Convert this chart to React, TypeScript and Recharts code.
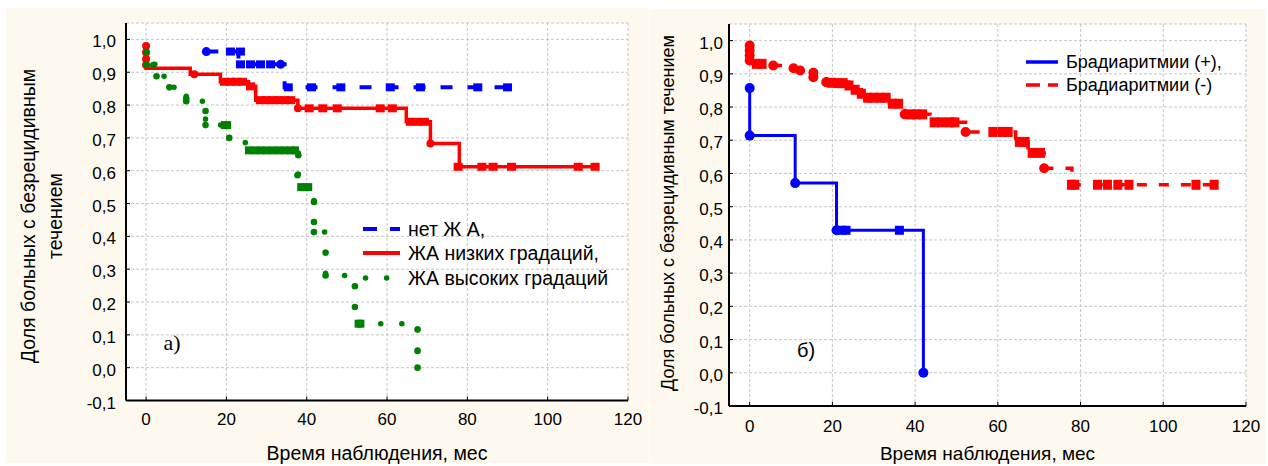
import React from "react";
import {
  ComposedChart,
  Line,
  Scatter,
  XAxis,
  YAxis,
  CartesianGrid,
  Legend,
  Label,
} from "recharts";

type Pt = { t: number; s: number };

const FONT = "'Liberation Sans', Arial, sans-serif";
const CREAM = "#fdf9ee";
const GRID = "#c6c6c6";
const BLUE = "#0000ff";
const RED = "#ff0000";
const GREEN = "#008000";

const xTicks = [0, 20, 40, 60, 80, 100, 120];
const yTicks = [-0.1, 0, 0.1, 0.2, 0.3, 0.4, 0.5, 0.6, 0.7, 0.8, 0.9, 1.0];

// ---- panel а) ----
const noVaSteps: Pt[] = [
  { t: 15, s: 0.963 }, { t: 23, s: 0.924 }, { t: 34.5, s: 0.854 }, { t: 91.5, s: 0.854 },
];
const noVaEvents: Pt[] = [{ t: 15, s: 0.963 }, { t: 33.5, s: 0.924 }];
const noVaCensored: Pt[] = [
  { t: 21, s: 0.963 }, { t: 23.5, s: 0.963 },
  { t: 23.5, s: 0.924 }, { t: 26, s: 0.924 }, { t: 28.5, s: 0.924 }, { t: 31, s: 0.924 },
  { t: 35.4, s: 0.854 }, { t: 41.2, s: 0.854 }, { t: 48.5, s: 0.854 }, { t: 60.8, s: 0.854 },
  { t: 68.3, s: 0.854 }, { t: 82.6, s: 0.854 }, { t: 90, s: 0.854 },
];

const lowVaSteps: Pt[] = [
  { t: 0, s: 0.99 }, { t: 0, s: 0.912 }, { t: 11, s: 0.894 }, { t: 18.5, s: 0.871 },
  { t: 25.5, s: 0.857 }, { t: 27.3, s: 0.815 }, { t: 37.8, s: 0.79 }, { t: 64.8, s: 0.749 },
  { t: 70.8, s: 0.683 }, { t: 78, s: 0.612 }, { t: 112, s: 0.612 },
];
const lowVaEvents: Pt[] = [
  { t: 0, s: 0.98 }, { t: 0, s: 0.96 }, { t: 0, s: 0.94 }, { t: 0, s: 0.922 },
  { t: 12, s: 0.894 }, { t: 37.8, s: 0.79 }, { t: 70.8, s: 0.683 },
];
const lowVaCensored: Pt[] = [
  { t: 19.5, s: 0.871 }, { t: 21, s: 0.871 }, { t: 22.5, s: 0.871 }, { t: 24, s: 0.871 },
  { t: 26, s: 0.857 },
  { t: 28.5, s: 0.815 }, { t: 30, s: 0.815 }, { t: 31.5, s: 0.815 }, { t: 33, s: 0.815 },
  { t: 34.5, s: 0.815 }, { t: 36, s: 0.815 },
  { t: 40.6, s: 0.79 }, { t: 44, s: 0.79 }, { t: 47.6, s: 0.79 }, { t: 58.3, s: 0.79 }, { t: 61.3, s: 0.79 },
  { t: 65.8, s: 0.749 }, { t: 67.5, s: 0.749 }, { t: 69.3, s: 0.749 },
  { t: 77.7, s: 0.612 }, { t: 83.6, s: 0.612 }, { t: 86.4, s: 0.612 }, { t: 91, s: 0.612 },
  { t: 107.6, s: 0.612 }, { t: 111.8, s: 0.612 },
];

const highVaSteps: Pt[] = [
  { t: 0, s: 0.962 }, { t: 0, s: 0.924 }, { t: 2.4, s: 0.888 }, { t: 5.8, s: 0.854 },
  { t: 10, s: 0.812 }, { t: 14.8, s: 0.782 }, { t: 14.8, s: 0.739 }, { t: 20.7, s: 0.7 },
  { t: 24.7, s: 0.684 }, { t: 24.7, s: 0.662 }, { t: 37.9, s: 0.647 }, { t: 37.9, s: 0.586 },
  { t: 37.9, s: 0.55 }, { t: 41.8, s: 0.505 }, { t: 41.8, s: 0.444 }, { t: 41.8, s: 0.413 },
  { t: 44.7, s: 0.35 }, { t: 44.7, s: 0.281 }, { t: 52, s: 0.248 }, { t: 52, s: 0.185 },
  { t: 52, s: 0.134 }, { t: 67.6, s: 0.116 }, { t: 67.6, s: 0.051 }, { t: 67.6, s: 0 },
];
const highVaEvents: Pt[] = [
  { t: 0, s: 0.962 }, { t: 0, s: 0.924 }, { t: 1.8, s: 0.922 }, { t: 2.6, s: 0.888 },
  { t: 5.8, s: 0.854 }, { t: 10, s: 0.82 }, { t: 10, s: 0.812 }, { t: 14.8, s: 0.782 },
  { t: 14.8, s: 0.739 }, { t: 20.7, s: 0.7 }, { t: 37.9, s: 0.647 }, { t: 37.7, s: 0.586 },
  { t: 41.8, s: 0.505 }, { t: 41.8, s: 0.444 }, { t: 41.8, s: 0.413 }, { t: 44.7, s: 0.35 },
  { t: 44.7, s: 0.281 }, { t: 52, s: 0.248 }, { t: 52, s: 0.185 }, { t: 67.6, s: 0.116 },
  { t: 67.6, s: 0.051 }, { t: 67.6, s: 0 },
];
const highVaCensored: Pt[] = [
  { t: 19.5, s: 0.739 }, { t: 20.3, s: 0.739 },
  { t: 25.5, s: 0.662 }, { t: 27, s: 0.662 }, { t: 28.5, s: 0.662 }, { t: 30, s: 0.662 },
  { t: 31.5, s: 0.662 }, { t: 33, s: 0.662 }, { t: 34.5, s: 0.662 }, { t: 36, s: 0.662 },
  { t: 37.2, s: 0.662 },
  { t: 38.5, s: 0.55 }, { t: 39.5, s: 0.55 }, { t: 40.5, s: 0.55 },
  { t: 52.8, s: 0.134 }, { t: 53.5, s: 0.134 },
];

// ---- panel б) ----
const bradyPosSteps: Pt[] = [
  { t: 0, s: 0.857 }, { t: 0, s: 0.714 }, { t: 11, s: 0.571 }, { t: 21, s: 0.429 }, { t: 42, s: 0 },
];
const bradyPosEvents: Pt[] = [
  { t: 0, s: 0.857 }, { t: 0, s: 0.714 }, { t: 11, s: 0.571 }, { t: 21, s: 0.429 }, { t: 42, s: 0 },
];
const bradyPosCensored: Pt[] = [{ t: 22.3, s: 0.429 }, { t: 23.3, s: 0.429 }, { t: 36.2, s: 0.429 }];

const bradyNegSteps: Pt[] = [
  { t: 0, s: 0.99 }, { t: 0, s: 0.93 }, { t: 5.7, s: 0.925 }, { t: 10.6, s: 0.917 },
  { t: 12.2, s: 0.91 }, { t: 15.4, s: 0.9 }, { t: 15.4, s: 0.885 }, { t: 18.5, s: 0.875 },
  { t: 24, s: 0.865 }, { t: 25.5, s: 0.852 }, { t: 27, s: 0.84 }, { t: 28.5, s: 0.828 },
  { t: 33.8, s: 0.81 }, { t: 37.5, s: 0.778 }, { t: 43.6, s: 0.754 }, { t: 52.2, s: 0.725 },
  { t: 64.3, s: 0.695 }, { t: 67.3, s: 0.662 }, { t: 71.2, s: 0.616 }, { t: 77.9, s: 0.566 },
  { t: 113.5, s: 0.566 },
];
const bradyNegEvents: Pt[] = [
  { t: 0, s: 0.985 }, { t: 0, s: 0.97 }, { t: 0, s: 0.955 }, { t: 0, s: 0.94 },
  { t: 5.7, s: 0.925 }, { t: 10.6, s: 0.917 }, { t: 12.2, s: 0.91 }, { t: 15.4, s: 0.903 },
  { t: 15.4, s: 0.89 }, { t: 18.5, s: 0.875 }, { t: 37.5, s: 0.778 }, { t: 52.2, s: 0.725 },
  { t: 71.2, s: 0.616 },
];
const bradyNegCensored: Pt[] = [
  { t: 1.6, s: 0.93 }, { t: 3, s: 0.93 },
  { t: 19.8, s: 0.873 }, { t: 21.2, s: 0.872 }, { t: 22.6, s: 0.872 }, { t: 24, s: 0.865 },
  { t: 25.5, s: 0.852 }, { t: 27, s: 0.84 }, { t: 28.5, s: 0.828 }, { t: 30, s: 0.828 },
  { t: 31.5, s: 0.828 }, { t: 33, s: 0.828 }, { t: 34.5, s: 0.81 }, { t: 36, s: 0.81 },
  { t: 38.8, s: 0.778 }, { t: 40.3, s: 0.778 }, { t: 41.8, s: 0.778 },
  { t: 44.6, s: 0.754 }, { t: 46.4, s: 0.754 }, { t: 48.4, s: 0.754 }, { t: 49.6, s: 0.754 },
  { t: 58.8, s: 0.725 }, { t: 61, s: 0.725 }, { t: 62.5, s: 0.725 },
  { t: 65.2, s: 0.695 }, { t: 66.6, s: 0.695 }, { t: 68.3, s: 0.662 }, { t: 70.3, s: 0.662 },
  { t: 77.8, s: 0.566 }, { t: 78.6, s: 0.566 }, { t: 84.1, s: 0.566 }, { t: 86.5, s: 0.566 },
  { t: 89, s: 0.566 }, { t: 91.7, s: 0.566 }, { t: 107.9, s: 0.566 }, { t: 112.3, s: 0.566 },
];

type LegendRow = { label: string; color: string; width: number; dash?: string; round?: boolean; x1: number };

const legendA: LegendRow[] = [
  { label: "нет Ж А,", color: BLUE, width: 4, dash: "14 13", x1: 8 },
  { label: "ЖА низких градаций,", color: RED, width: 4, x1: 8 },
  { label: "ЖА высоких градаций", color: GREEN, width: 5.5, dash: "0.1 21", round: true, x1: 10.5 },
];
const legendB: LegendRow[] = [
  { label: "Брадиаритмии (+),", color: BLUE, width: 3.5, x1: 0 },
  { label: "Брадиаритмии (-)", color: RED, width: 3.5, dash: "14 8", x1: 0 },
];

const fmt = (v: number) => v.toFixed(1).replace(".", ",");

const square = (color: string, w: number, h: number) => (p: any) =>
  <rect x={p.cx - w / 2} y={p.cy - h / 2} width={w} height={h} fill={color} />;
const dot = (color: string, r: number) => (p: any) =>
  <circle cx={p.cx} cy={p.cy} r={r} fill={color} />;

function LegendBox({ rows, x2, textX, rowYs, fontSize }: {
  rows: LegendRow[]; x2: number; textX: number; rowYs: number[]; fontSize: number;
}) {
  return (
    <svg width={280} height={90} style={{ display: "block", overflow: "visible" }}>
      {rows.map((r, i) => (
        <g key={r.label}>
          <line x1={r.x1} x2={x2} y1={rowYs[i]} y2={rowYs[i]} stroke={r.color} strokeWidth={r.width}
            strokeDasharray={r.dash} strokeLinecap={r.round ? "round" : "butt"} />
          <text x={textX} y={rowYs[i]} dominantBaseline="central" fontSize={fontSize} fill="#000" fontFamily={FONT}>
            {r.label}
          </text>
        </g>
      ))}
    </svg>
  );
}

function YTitle({ lines, size }: { lines: { x: number; y: number; text: string }[]; size: number }) {
  return (
    <g>
      {lines.map((l) => (
        <text key={l.text} x={l.x} y={l.y} transform={`rotate(-90 ${l.x} ${l.y})`} textAnchor="middle"
          dominantBaseline="central" fontSize={size} fill="#000" fontFamily={FONT}>
          {l.text}
        </text>
      ))}
    </g>
  );
}

const axisLine = { stroke: "#000", strokeWidth: 2 };
const tickLine = { stroke: "#000", strokeWidth: 1 };

function frameAxes() {
  return [
    <XAxis key="xt" xAxisId="t" orientation="top" type="number" domain={[-5, 120]} ticks={xTicks}
      allowDataOverflow height={0} tick={false} tickSize={-4} axisLine={axisLine} tickLine={tickLine} interval={0} />,
    <YAxis key="yr" yAxisId="r" orientation="right" type="number" domain={[-0.1, 1.05]} ticks={yTicks}
      allowDataOverflow width={0} tick={false} tickSize={-4} axisLine={axisLine} tickLine={tickLine} interval={0} />,
  ];
}

function PanelA() {
  return (
    <ComposedChart width={650} height={466} margin={{ top: 23, right: 22, bottom: 35.5, left: 66 }}>
      <CartesianGrid fill="#fff" stroke={GRID} strokeDasharray="3 2" />
      <XAxis type="number" dataKey="t" domain={[-5, 120]} ticks={xTicks} allowDataOverflow height={30}
        interval={0} axisLine={axisLine} tickLine={tickLine} tickSize={-4} tickMargin={16}
        tick={{ fill: "#000", fontSize: 17, fontFamily: FONT }}
        label={{ value: "Время наблюдения, мес", position: "bottom", offset: 15.5, fill: "#000", fontSize: 19.5, fontFamily: FONT }} />
      <YAxis type="number" dataKey="s" domain={[-0.1, 1.05]} ticks={yTicks} allowDataOverflow width={60}
        interval={0} axisLine={axisLine} tickLine={tickLine} tickSize={-4} tickMargin={14}
        tick={{ fill: "#000", fontSize: 17, dy: 2, fontFamily: FONT }} tickFormatter={fmt}>
        <Label content={() => (
          <YTitle size={19.5} lines={[
            { x: 28, y: 216, text: "Доля больных с безрецидивным" },
            { x: 55, y: 216, text: "течением" },
          ]} />
        )} />
      </YAxis>
      {frameAxes()}
      <Line data={noVaSteps} dataKey="s" type="stepAfter" stroke={BLUE} strokeWidth={4}
        strokeDasharray="12 15" dot={false} activeDot={false} isAnimationActive={false} />
      <Scatter data={noVaEvents} shape={dot(BLUE, 4.5)} isAnimationActive={false} />
      <Scatter data={noVaCensored} shape={square(BLUE, 9, 8)} isAnimationActive={false} />
      <Line data={lowVaSteps} dataKey="s" type="stepAfter" stroke={RED} strokeWidth={3.5}
        dot={false} activeDot={false} isAnimationActive={false} />
      <Scatter data={lowVaEvents} shape={dot(RED, 4)} isAnimationActive={false} />
      <Scatter data={lowVaCensored} shape={square(RED, 9, 8)} isAnimationActive={false} />
      <Line data={highVaSteps} dataKey="s" type="stepAfter" stroke={GREEN} strokeWidth={5.5}
        strokeDasharray="0.1 21" strokeLinecap="round" dot={false} activeDot={false} isAnimationActive={false} />
      <Scatter data={highVaEvents} shape={dot(GREEN, 3.3)} isAnimationActive={false} />
      <Scatter data={highVaCensored} shape={square(GREEN, 7, 8)} isAnimationActive={false} />
      <Legend layout="vertical" align="center" verticalAlign="middle"
        wrapperStyle={{ left: 355, top: 215, width: 280, height: 90 }}
        content={() => <LegendBox rows={legendA} x2={45} textX={53} rowYs={[14, 38, 63]} fontSize={19.5} />} />
    </ComposedChart>
  );
}

function PanelB() {
  return (
    <ComposedChart width={618} height={466} margin={{ top: 24, right: 22, bottom: 30, left: 19 }}>
      <CartesianGrid fill="#fff" stroke={GRID} strokeDasharray="3 2" />
      <XAxis type="number" dataKey="t" domain={[-5, 120]} ticks={xTicks} allowDataOverflow height={30}
        interval={0} axisLine={axisLine} tickLine={tickLine} tickSize={-4} tickMargin={17.5}
        tick={{ fill: "#000", fontSize: 17, fontFamily: FONT }}
        label={{ value: "Время наблюдения, мес", position: "bottom", offset: 11, fill: "#000", fontSize: 19, fontFamily: FONT }} />
      <YAxis type="number" dataKey="s" domain={[-0.1, 1.05]} ticks={yTicks} allowDataOverflow width={60}
        interval={0} axisLine={axisLine} tickLine={tickLine} tickSize={-4} tickMargin={10}
        tick={{ fill: "#000", fontSize: 17, dy: 2, fontFamily: FONT }} tickFormatter={fmt}>
        <Label content={() => (
          <YTitle size={18} lines={[{ x: 18, y: 213, text: "Доля больных с безрецидивным течением" }]} />
        )} />
      </YAxis>
      {frameAxes()}
      <Line data={bradyPosSteps} dataKey="s" type="stepAfter" stroke={BLUE} strokeWidth={3}
        dot={false} activeDot={false} isAnimationActive={false} />
      <Scatter data={bradyPosEvents} shape={dot(BLUE, 5)} isAnimationActive={false} />
      <Scatter data={bradyPosCensored} shape={square(BLUE, 9, 9)} isAnimationActive={false} />
      <Line data={bradyNegSteps} dataKey="s" type="stepAfter" stroke={RED} strokeWidth={3.5}
        strokeDasharray="10 12" dot={false} activeDot={false} isAnimationActive={false} />
      <Scatter data={bradyNegEvents} shape={dot(RED, 5)} isAnimationActive={false} />
      <Scatter data={bradyNegCensored} shape={square(RED, 9, 10)} isAnimationActive={false} />
      <Legend layout="vertical" align="center" verticalAlign="middle"
        wrapperStyle={{ left: 376, top: 45, width: 240, height: 60 }}
        content={() => <LegendBox rows={legendB} x2={32} textX={40} rowYs={[17, 40]} fontSize={18} />} />
    </ComposedChart>
  );
}

export default function App() {
  return (
    <div style={{ position: "absolute", left: 0, top: 0, width: 1268, height: 466, background: "#fff", overflow: "hidden", fontFamily: FONT }}>
      <div style={{ position: "absolute", left: 6, top: 8, width: 643, height: 455, background: CREAM }} />
      <div style={{ position: "absolute", left: 650, top: 9, width: 616, height: 455, background: CREAM }} />
      <div style={{ position: "absolute", left: 0, top: 0 }}>
        <PanelA />
      </div>
      <div style={{ position: "absolute", left: 650, top: 0 }}>
        <PanelB />
      </div>
      <svg width={1268} height={466} style={{ position: "absolute", left: 0, top: 0, pointerEvents: "none" }}>
        <text x={172} y={342} textAnchor="middle" dominantBaseline="central" fontSize={22}
          fontFamily="'Liberation Serif', 'Times New Roman', serif" fill="#000">а)</text>
        <text x={806} y={350} textAnchor="middle" dominantBaseline="central" fontSize={20}
          fontFamily={FONT} fill="#000">б)</text>
      </svg>
    </div>
  );
}
